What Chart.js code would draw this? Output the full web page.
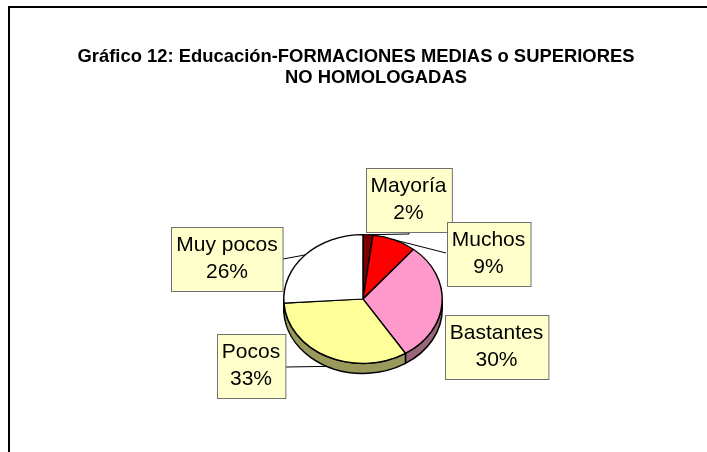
<!DOCTYPE html>
<html>
<head>
<meta charset="utf-8">
<script src="https://cdn.jsdelivr.net/npm/chart.js@4"></script>
<style>
html,body{margin:0;padding:0;background:#fff;}
canvas{display:block;}
</style>
</head>
<body>
<canvas id="c" width="707" height="452"></canvas>
<script>
// ---- data ----
const categories = ['Mayoría', 'Muchos', 'Bastantes', 'Pocos', 'Muy pocos'];
const values = [2, 9, 30, 33, 26];
const percentLabels = ['2%', '9%', '30%', '33%', '26%'];
const titleLines = ['Gráfico 12: Educación-FORMACIONES MEDIAS o SUPERIORES', 'NO HOMOLOGADAS'];
const topColors = ['#800000', '#FF0000', '#FF99CC', '#FFFF99', '#FFFFFF'];
const sideColors = ['#400000', '#800000', '#99667A', '#99995C', '#999999'];

// ---- layout (not data) ----
const TILT = 65 / 80;   // vertical squash of the pie
const DEPTH = 10;       // 3D thickness
const titlePos = [{x: 356, y: 57}, {x: 376, y: 78}];
const labelLayout = [
  {cx: 408.5, cy: 200, anchor: 'top', leader: [[409, 234], [409, 232]]},
  {cx: 488.5, cy: 254, anchor: 'top', leader: [[446, 253]]},
  {cx: 496.5, cy: 346.5, anchor: null, leader: []},
  {cx: 251, cy: 366, anchor: 'side', leader: [[286, 367]]},
  {cx: 227, cy: 258.5, anchor: 'top', leader: [[283, 259]]}
];

const pie3d = {
  id: 'pie3d',
  beforeDraw(chart) {
    const ctx = chart.ctx;
    ctx.save();
    ctx.fillStyle = '#fff';
    ctx.fillRect(0, 0, chart.width, chart.height);
    ctx.strokeStyle = '#000';
    ctx.lineWidth = 2;
    ctx.strokeRect(9, 7, 900, 900);
    // title
    ctx.fillStyle = '#000';
    ctx.font = 'bold 18.4px "Liberation Sans", Arial, sans-serif';
    ctx.textAlign = 'center';
    ctx.textBaseline = 'middle';
    titleLines.forEach((t, i) => ctx.fillText(t, titlePos[i].x, titlePos[i].y));
    ctx.restore();
  },
  beforeDatasetsDraw(chart) {
    const ctx = chart.ctx;
    const arcs = chart.getDatasetMeta(0).data;
    ctx.save();
    ctx.lineWidth = 1.5;
    ctx.strokeStyle = '#000';
    arcs.forEach((arc, i) => {
      const {x, y, startAngle, endAngle, outerRadius} = arc.getProps(['x', 'y', 'startAngle', 'endAngle', 'outerRadius']);
      const rx = outerRadius, ry = outerRadius * TILT;
      const a0 = Math.max(startAngle, 0), a1 = Math.min(endAngle, Math.PI);
      if (a1 <= a0) return;
      ctx.beginPath();
      ctx.ellipse(x, y, rx, ry, 0, a0, a1, false);
      ctx.ellipse(x, y + DEPTH, rx, ry, 0, a1, a0, true);
      ctx.closePath();
      ctx.fillStyle = sideColors[i];
      ctx.fill();
      ctx.stroke();
    });
    ctx.restore();
    const a = arcs[0];
    ctx.save();
    ctx.translate(a.x, a.y);
    ctx.scale(1, TILT);
    ctx.translate(-a.x, -a.y);
  },
  afterDatasetsDraw(chart) {
    chart.ctx.restore();
  },
  afterDraw(chart) {
    const ctx = chart.ctx;
    const arcs = chart.getDatasetMeta(0).data;
    ctx.save();
    // leaders
    ctx.strokeStyle = '#000';
    ctx.lineWidth = 1;
    labelLayout.forEach((L, i) => {
      if (!L.anchor) return;
      const arc = arcs[i];
      const mid = (arc.startAngle + arc.endAngle) / 2;
      const r = arc.outerRadius;
      let ax = arc.x + r * Math.cos(mid);
      let ay = arc.y + r * TILT * Math.sin(mid) + (L.anchor === 'side' ? DEPTH : 0);
      ctx.beginPath();
      ctx.moveTo(ax, ay);
      L.leader.forEach(p => ctx.lineTo(p[0], p[1]));
      ctx.stroke();
    });
    // label boxes
    ctx.font = '21px "Liberation Sans", Arial, sans-serif';
    ctx.textAlign = 'center';
    ctx.textBaseline = 'middle';
    labelLayout.forEach((L, i) => {
      const w = Math.max(ctx.measureText(categories[i]).width, ctx.measureText(percentLabels[i]).width) + 10;
      const h = 64;
      const bx = Math.round(L.cx - w / 2) + 0.5, by = Math.round(L.cy - h / 2) + 0.5;
      ctx.fillStyle = '#FFFFCC';
      ctx.fillRect(bx, by, w, h);
      ctx.strokeStyle = '#707070';
      ctx.strokeRect(bx, by, w, h);
      ctx.fillStyle = '#000';
      ctx.fillText(categories[i], L.cx, by + 18);
      ctx.fillText(percentLabels[i], L.cx, by + 45);
    });
    ctx.restore();
  }
};

new Chart(document.getElementById('c'), {
  type: 'pie',
  data: {
    labels: categories,
    datasets: [{
      data: values,
      backgroundColor: topColors,
      borderColor: '#000',
      borderWidth: 1.5
    }]
  },
  options: {
    responsive: false,
    animation: false,
    layout: {padding: {left: 283, right: 264, top: 219, bottom: 73}},
    plugins: {
      legend: {display: false},
      tooltip: {enabled: false},
      title: {display: false}
    }
  },
  plugins: [pie3d]
});
</script>
</body>
</html>
